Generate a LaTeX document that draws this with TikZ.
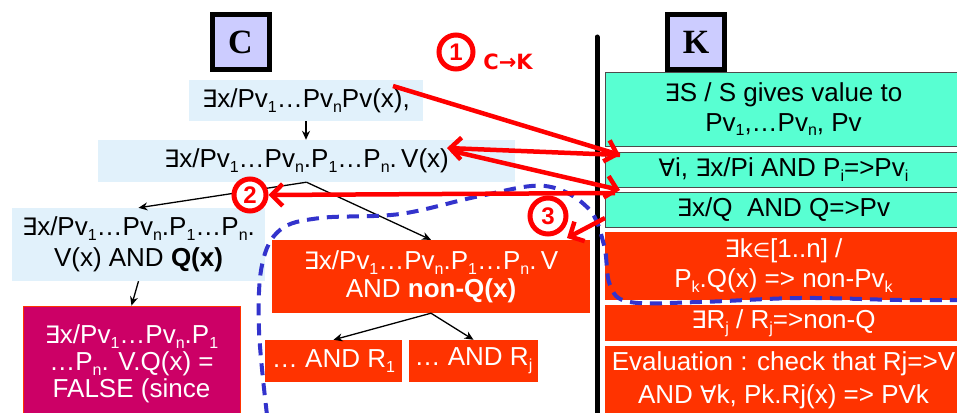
\documentclass[tikz,border=0pt]{standalone}
\usepackage{fontspec}
\setmainfont{Liberation Sans}
\newfontfamily\symf{DejaVu Sans}
\newfontfamily\serifb{Liberation Serif}
\usetikzlibrary{arrows.meta}
\definecolor{lblue}{RGB}{225,241,251}
\definecolor{aqua}{RGB}{88,255,210}
\definecolor{ored}{RGB}{255,51,0}
\definecolor{mag}{RGB}{204,0,102}
\definecolor{lav}{RGB}{204,204,255}
\definecolor{dblue}{RGB}{51,51,204}
\definecolor{rred}{RGB}{255,0,0}
\newcommand\sbx[1]{\raisebox{-0.35ex}{\fontsize{16}{16}\selectfont #1}}
\newcommand\exs{{\symf\fontsize{24}{24}\selectfont ∃}}
\newcommand\fal{{\symf\fontsize{24}{24}\selectfont ∀}}
\newcommand\inn{{\symf\fontsize{20}{20}\selectfont ∈}}
\tikzset{
  txt/.style={font=\fontsize{26}{30}\selectfont, align=center, inner sep=0pt},
  lbbox/.style={txt, fill=lblue, text=black},
  rbox/.style={txt, fill=ored, text=white},
  mbox/.style={txt, fill=mag, text=white, draw=ored, line width=0.8pt},
  abox/.style={txt, fill=aqua, text=black, draw=black!70, line width=0.8pt},
  lab/.style={draw=black, line width=5pt, fill=lav, inner sep=0pt,
     minimum width=57pt, minimum height=54pt, font=\serifb\bfseries\fontsize{34}{34}\selectfont},
  tarrow/.style={draw=black, line width=1.3pt, -{Stealth[length=9pt,width=8pt]}},
  rarrow/.style={draw=rred, line width=4.5pt, -{Straight Barb[length=11pt,width=22pt,line width=4.5pt]}},
  ncirc/.style={circle, draw=rred, line width=5pt, fill=white, inner sep=0pt, text=rred,
     font=\bfseries\fontsize{24}{24}\selectfont},
}
\begin{document}
\begin{tikzpicture}[x=1pt,y=-1pt]
\useasboundingbox (0,0) rectangle (957,412);
% C and K labels
\node[lab] (cl) at (240.5,42) {C};
\node[lab] (kl) at (696,42) {K};
% separator
\coordinate (vt) at (597,37);
\coordinate (vb) at (597,420);
\draw[line width=5pt, line cap=round] (vt) -- (vb);
% left tree
\node[lbbox, minimum width=234pt, minimum height=41pt] (b1) at (306,100.5)
  {\exs x/Pv\sbx{1}…Pv\sbx{n}Pv(x),};
\node[lbbox, minimum width=417pt, minimum height=42pt] (b2) at (306.5,161)
  {\exs x/Pv\sbx{1}…Pv\sbx{n}.P\sbx{1}…P\sbx{n}.\,V(x)};
\node[lbbox, minimum width=253pt, minimum height=73pt, font=\fontsize{26}{31}\selectfont] (b3) at (138.5,244.5)
  {\exs x/Pv\sbx{1}…Pv\sbx{n}.P\sbx{1}…P\sbx{n}.\\ V(x) AND \textbf{Q(x)}};
\node[mbox, minimum width=217pt, minimum height=115pt, font=\fontsize{26}{27}\selectfont] (b4) at (131.5,363.5)
  {\exs x/Pv\sbx{1}…Pv\sbx{n}.P\sbx{1}\\ …P\sbx{n}. V.Q(x) =\\ FALSE (since};
\node[rbox, minimum width=318pt, minimum height=73pt, font=\fontsize{26}{28}\selectfont] (b5) at (431,276.5)
  {\exs x/Pv\sbx{1}…Pv\sbx{n}.P\sbx{1}…P\sbx{n}.\,V\\ AND \textbf{non-Q(x)}};
\node[rbox, minimum width=137pt, minimum height=42pt] (b6) at (333.5,361) {… AND R\sbx{1}};
\node[rbox, minimum width=129pt, minimum height=42pt] (b7) at (473.5,361) {… AND R\sbx{j}};
% tree arrows
\draw[tarrow] (b1.south) -- (b1.south |- b2.north);
\draw[tarrow] (b2.south) -- (b3.north);
\draw[tarrow] (b2.south) -- (b5.north);
\draw[tarrow] (b3.south) -- (b4.north);
\draw[tarrow] (b5.south) -- (b6.north);
\draw[tarrow] (b5.south) -- (b7.north);
% right column
\node[abox, minimum width=357pt, minimum height=74pt] (k1) at (783.5,109)
  {\exs S / S gives value to\\ Pv\sbx{1},…Pv\sbx{n}, Pv};
\node[abox, minimum width=357pt, minimum height=35pt] (k2) at (783.5,169.5)
  {\fal i, \exs x/Pi AND P\sbx{i}=>Pv\sbx{i}};
\node[abox, minimum width=357pt, minimum height=35pt] (k3) at (783.5,209.5)
  {\exs x/Q\ \ AND Q=>Pv};
\node[rbox, minimum width=357pt, minimum height=68pt] (k4) at (783.5,266)
  {\exs k\inn[1..n] /\\ P\sbx{k}.Q(x) => non-Pv\sbx{k}};
\node[rbox, minimum width=357pt, minimum height=36pt] (k5) at (783.5,323)
  {\exs R\sbx{j} / R\sbx{j}=>non-Q};
\node[rbox, minimum width=357pt, minimum height=68pt, font=\fontsize{26}{33}\selectfont] (k6) at (783.5,380)
  {Evaluation : check that Rj=>V\\ AND \fal k, Pk.Rj(x) => PVk};
% blue dashed region
\draw[dblue, line width=4pt, dash pattern=on 12pt off 8pt]
  plot[smooth, tension=0.6] coordinates {(267,415) (259,330) (262,265) (280,230) (320,218) (400,214) (480,196) (545,186) (588,208) (604,245) (610,285) (630,302) (700,302) (800,298) (900,300) (960,300)};
% red arrows
\coordinate (r1s) at (393,86);
\coordinate (r1e) at (620,155);
\coordinate (r2t) at (447,148);
\coordinate (r3s) at (452,151);
\coordinate (r3e) at (620,190);
\coordinate (r4s) at (615,193);
\coordinate (r5s) at (605,218);
\coordinate (r5e) at (567,238);
\draw[rarrow] (r1s) -- (r1e);
\draw[rarrow] (r1e) -- (r2t);
\draw[rarrow] (r3s) -- (r3e);
\node[ncirc, minimum size=32pt] (c2) at (250,195) {2};
\draw[rarrow] (r4s) -- (c2.east);
\draw[rarrow] (r5s) -- (r5e);
\node[ncirc, minimum size=34pt] (c1) at (456,52) {1};
\node[ncirc, minimum size=36pt] (c3) at (548,216) {3};
\node[text=rred, font=\symf\bfseries\fontsize{21}{21}\selectfont, inner sep=0pt] (ck) at (508,62) {C→K};
\end{tikzpicture}
\end{document}
